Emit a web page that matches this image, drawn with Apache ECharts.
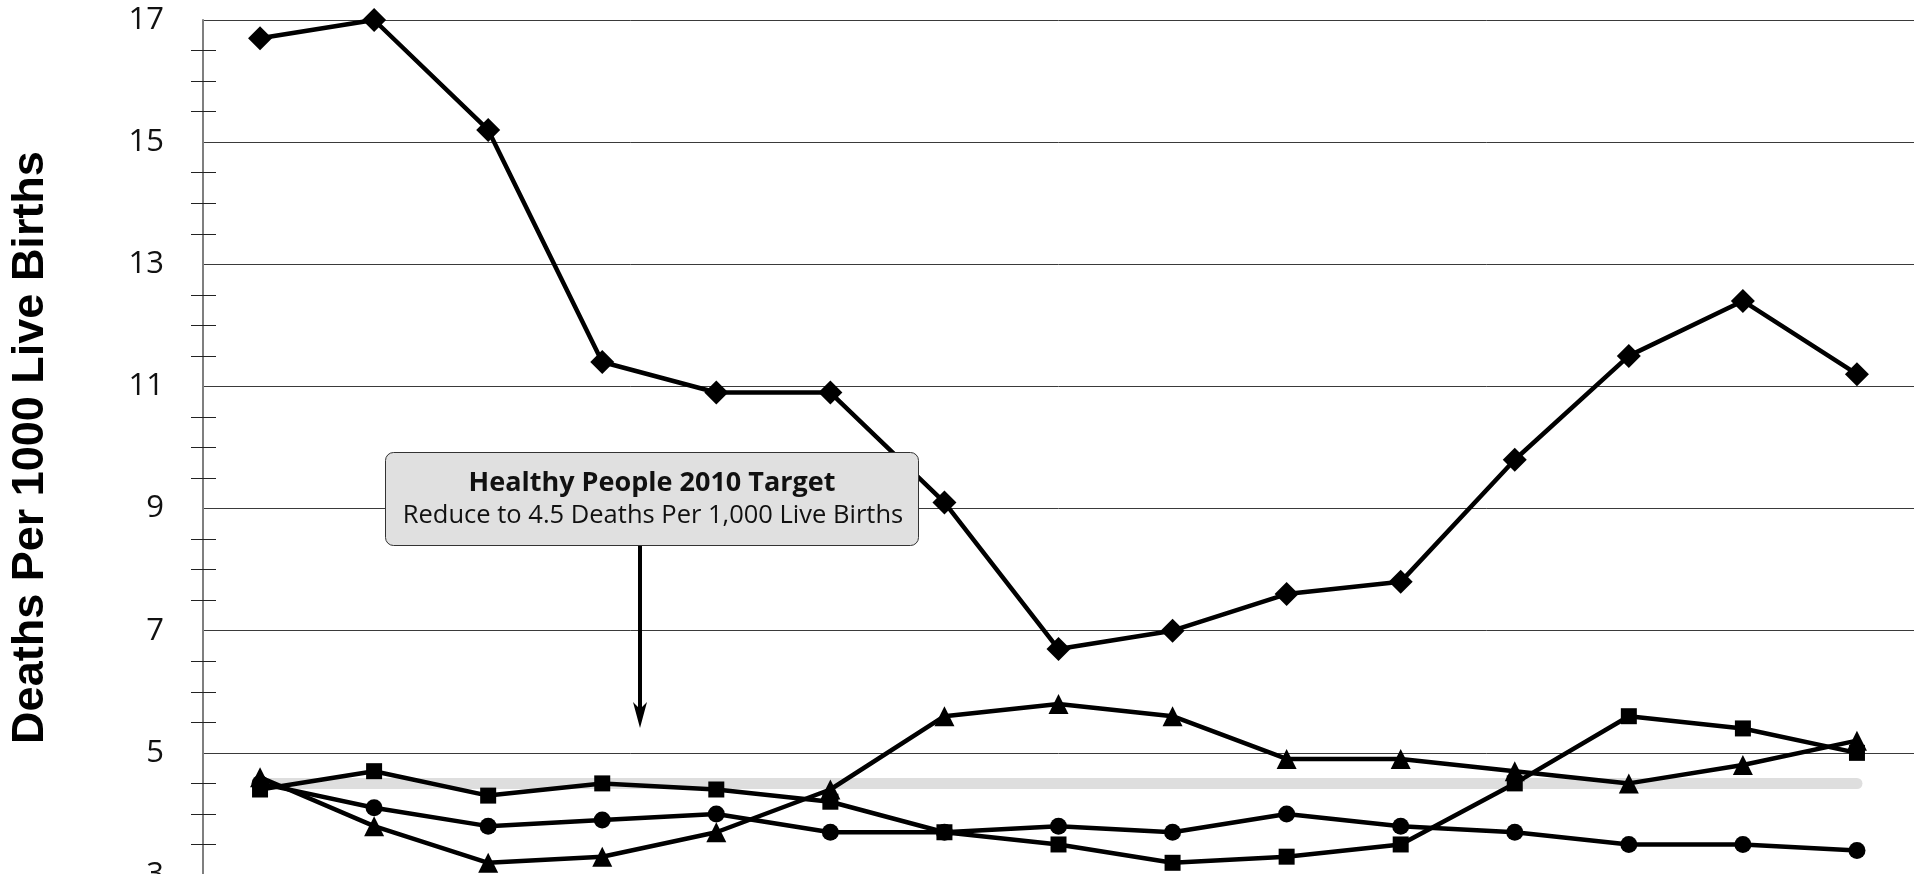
<!DOCTYPE html>
<html>
<head>
<meta charset="utf-8">
<script src="https://cdn.jsdelivr.net/npm/echarts@6/dist/echarts.min.js"></script>
<style>
html,body{margin:0;padding:0;background:#ffffff;}
#chart{width:1917px;height:874px;}
</style>
</head>
<body>
<div id="chart"></div>
<script>
// ---- data ----
const categories = ['1990','1991','1992','1993','1994','1995','1996','1997','1998','1999','2000','2001','2002','2003','2004'];
const diamondValues  = [16.7, 17.0, 15.2, 11.4, 10.9, 10.9, 9.1, 6.7, 7.0, 7.6, 7.8, 9.8, 11.5, 12.4, 11.2];
const squareValues   = [4.4, 4.7, 4.3, 4.5, 4.4, 4.2, 3.7, 3.5, 3.2, 3.3, 3.5, 4.5, 5.6, 5.4, 5.0];
const circleValues   = [4.5, 4.1, 3.8, 3.9, 4.0, 3.7, 3.7, 3.8, 3.7, 4.0, 3.8, 3.7, 3.5, 3.5, 3.4];
const triangleValues = [4.6, 3.8, 3.2, 3.3, 3.7, 4.4, 5.6, 5.8, 5.6, 4.9, 4.9, 4.7, 4.5, 4.8, 5.2];
const targetValue = 4.5;
const yTicks = [3, 5, 7, 9, 11, 13, 15, 17];
const yAxisTitle = 'Deaths Per 1000 Live Births';
const noteTitle = 'Healthy People 2010 Target';
const noteText = 'Reduce to 4.5 Deaths Per 1,000 Live Births';

const chart = echarts.init(document.getElementById('chart'), null, {renderer: 'canvas'});

function lineSeries(name, values, symbol, size, extra) {
  return Object.assign({
    name: name,
    type: 'line',
    data: values,
    symbol: symbol,
    symbolSize: size,
    showSymbol: true,
    z: 3,
    lineStyle: {color: '#000000', width: 4.5},
    itemStyle: {color: '#000000'},
    emphasis: {disabled: true}
  }, extra || {});
}

const option = {
  animation: false,
  backgroundColor: '#ffffff',
  grid: {left: 203, top: 20, width: 1711, height: 855, containLabel: false, outerBoundsMode: 'none'},
  xAxis: {
    type: 'category',
    data: categories,
    boundaryGap: true,
    axisLine: {show: false},
    axisTick: {show: false},
    axisLabel: {show: false},
    splitLine: {show: false}
  },
  yAxis: [
    {
      type: 'value',
      min: yTicks[0],
      max: yTicks[yTicks.length - 1],
      interval: 2,
      position: 'left',
      name: yAxisTitle,
      nameLocation: 'middle',
      nameGap: 150,
      nameRotate: 90,
      nameTextStyle: {fontFamily: 'Liberation Sans, Arial, sans-serif', fontWeight: 'bold', fontSize: 45, color: '#000000'},
      axisLine: {show: true, lineStyle: {color: '#7f7f7f', width: 2}},
      axisTick: {show: false},
      minorTick: {show: false},
      axisLabel: {show: true, margin: 39, fontFamily: 'Open Sans, sans-serif', fontSize: 31, color: '#111111'},
      splitLine: {show: true, lineStyle: {color: '#3a3a3a', width: 1}}
    },
    {
      type: 'value',
      min: yTicks[0],
      max: yTicks[yTicks.length - 1],
      interval: 2,
      position: 'left',
      offset: -13,
      axisLine: {show: false},
      axisTick: {show: false},
      axisLabel: {show: false},
      splitLine: {show: false},
      minorTick: {show: true, splitNumber: 4, length: 25, lineStyle: {color: '#222222', width: 1}}
    }
  ],
  series: [
    lineSeries('circle', circleValues, 'circle', 17, {
      markLine: {
        z: 1,
        silent: true,
        animation: false,
        symbol: ['none', 'none'],
        label: {show: false},
        lineStyle: {color: '#dedede', width: 11, type: 'solid', cap: 'round'},
        emphasis: {disabled: true},
        data: [[{coord: [categories[0], targetValue]}, {coord: [categories[categories.length - 1], targetValue]}]]
      }
    }),
    lineSeries('square', squareValues, 'rect', 16),
    lineSeries('triangle', triangleValues, 'triangle', 20),
    lineSeries('diamond', diamondValues, 'diamond', 24)
  ],
  graphic: [
    {
      type: 'rect',
      left: 385, top: 452, z: 10,
      shape: {width: 533, height: 93, r: 8},
      style: {fill: '#e0e0e0', stroke: '#333333', lineWidth: 1}
    },
    {
      type: 'text',
      x: 652, y: 483, z: 11,
      style: {text: noteTitle, fontFamily: 'Open Sans, sans-serif', fontWeight: 'bold', fontSize: 27, fill: '#111111', align: 'center', verticalAlign: 'middle'}
    },
    {
      type: 'text',
      x: 653, y: 516, z: 11,
      style: {text: noteText, fontFamily: 'Open Sans, sans-serif', fontSize: 25.5, fill: '#111111', align: 'center', verticalAlign: 'middle'}
    },
    {
      type: 'line',
      z: 11,
      shape: {x1: 640, y1: 546, x2: 640, y2: 710},
      style: {stroke: '#000000', lineWidth: 4}
    },
    {
      type: 'polygon',
      z: 11,
      shape: {points: [[640, 728], [633, 702], [640, 709], [647, 702]]},
      style: {fill: '#000000'}
    }
  ]
};

chart.setOption(option);
</script>
</body>
</html>
